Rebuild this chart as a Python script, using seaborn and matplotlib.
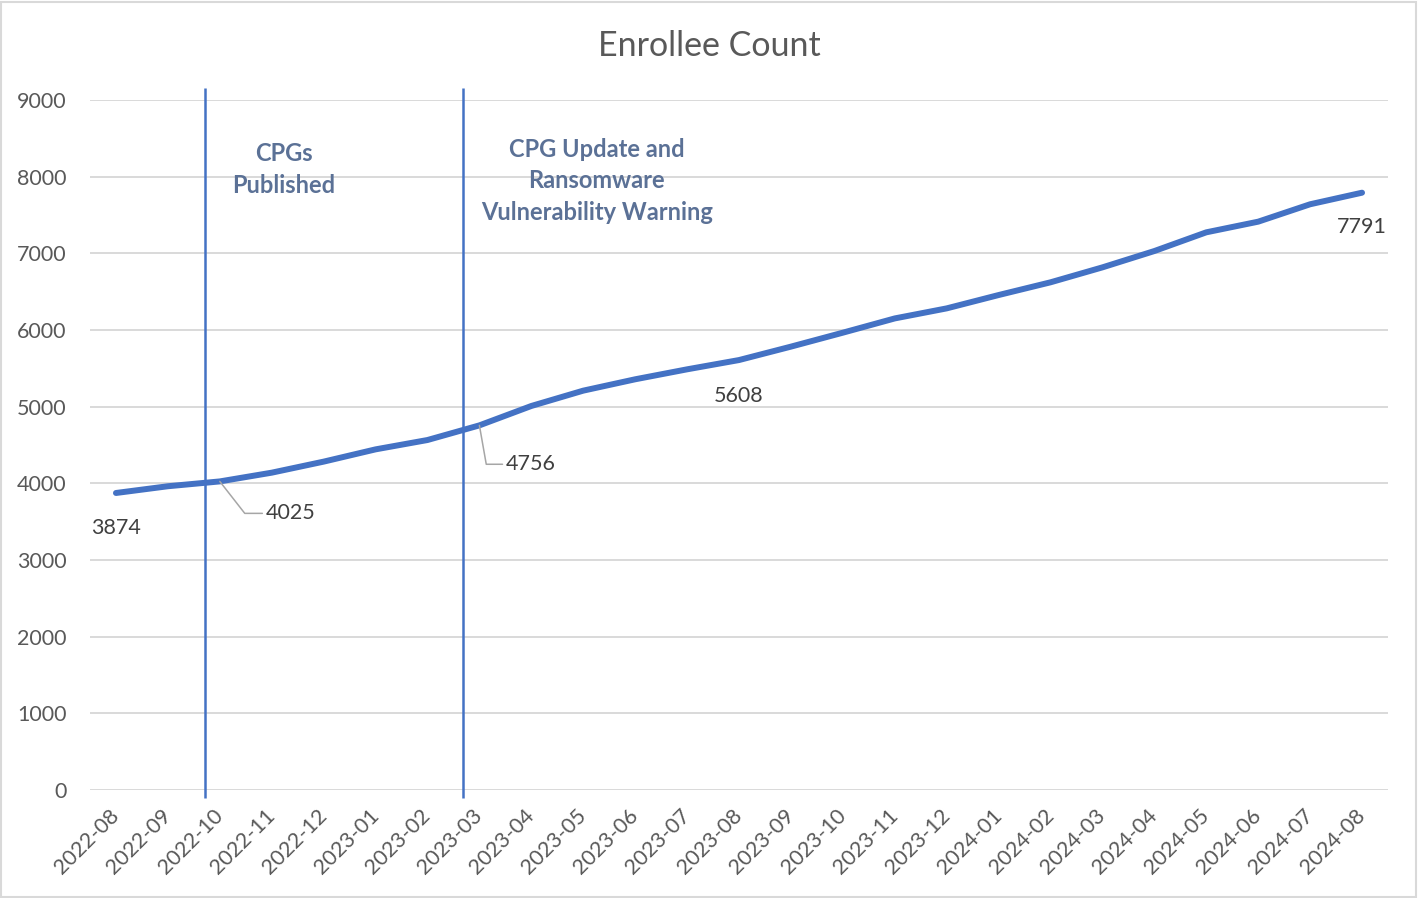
import matplotlib
matplotlib.use("Agg")
import matplotlib.pyplot as plt
import seaborn as sns
import pandas as pd
from matplotlib.patches import Rectangle

months = ["2022-08", "2022-09", "2022-10", "2022-11", "2022-12", "2023-01",
          "2023-02", "2023-03", "2023-04", "2023-05", "2023-06", "2023-07",
          "2023-08", "2023-09", "2023-10", "2023-11", "2023-12", "2024-01",
          "2024-02", "2024-03", "2024-04", "2024-05", "2024-06", "2024-07",
          "2024-08"]
enrollees = [3874, 3962, 4025, 4139, 4283, 4443, 4565, 4756, 5009, 5209,
             5357, 5487, 5608, 5783, 5965, 6151, 6282, 6456, 6622, 6817,
             7030, 7274, 7413, 7640, 7791]

# Event markers (fractional month positions) and their captions
event_positions = [1.715, 6.68]
event_labels = ["CPGs\nPublished", "CPG Update and\nRansomware\nVulnerability Warning"]

sns.set_theme(style="white")
plt.rcParams["font.family"] = ["Lato", "DejaVu Sans"]

LINE_BLUE = "#4472C4"
TEXT_GREY = "#595959"
NOTE_BLUE = "#5B7196"

df = pd.DataFrame({"month": months, "enrollees": enrollees})

fig = plt.figure(figsize=(14.18, 8.98), dpi=100)
ax = fig.add_axes([90 / 1418, 1 - 790 / 898, 1298 / 1418, 690 / 898])

sns.lineplot(data=df, x="month", y="enrollees", sort=False, ax=ax,
             color=LINE_BLUE, linewidth=4.3, solid_capstyle="round", zorder=4)

ax.set_xlim(-0.5, len(months) - 0.5)
ax.set_ylim(0, 9000)
ax.set_yticks(range(0, 9001, 1000))
ax.grid(axis="y", color="#d9d9d9", linewidth=1.4)
ax.grid(axis="x", visible=False)
for s in ax.spines.values():
    s.set_visible(False)
ax.set_xlabel("")
ax.set_ylabel("")
ax.tick_params(axis="both", length=0, labelsize=15.5, labelcolor=TEXT_GREY)
ax.tick_params(axis="y", pad=17)
ax.set_xticks(range(len(months)))
ax.set_xticklabels(months, rotation=45, ha="right", rotation_mode="anchor",
                   va="center")
ax.tick_params(axis="x", pad=16)

fig.text(709 / 1418, 1 - 46 / 898, "Enrollee Count", ha="center", va="center",
         fontsize=24.5, color=TEXT_GREY)

# Event lines and captions
for pos in event_positions:
    ax.vlines(pos, -105, 9150, color=LINE_BLUE, linewidth=1.8, clip_on=False,
              zorder=3)
ax.text(3.24, 8450, event_labels[0], ha="center", va="top", fontsize=17,
        fontweight="bold", color=NOTE_BLUE, linespacing=1.45)
ax.text(9.26, 8510, event_labels[1], ha="center", va="top", fontsize=17,
        fontweight="bold", color=NOTE_BLUE, linespacing=1.45)

# Value labels
val = dict(zip(months, enrollees))
idx = {m: i for i, m in enumerate(months)}
lab_kw = dict(fontsize=15.5, color="#404040", zorder=5)

m = "2022-08"
ax.annotate(str(val[m]), (idx[m], val[m]), xytext=(0, -25),
            textcoords="offset points", ha="center", va="center", **lab_kw)
m = "2022-10"
ax.annotate(str(val[m]), (idx[m], val[m]), xytext=(33, -23),
            textcoords="offset points", ha="left", va="center",
            arrowprops=dict(arrowstyle="-", color="#a6a6a6", lw=1.1,
                            shrinkA=0, shrinkB=0,
                            connectionstyle="angle,angleA=0,angleB=-52,rad=0"),
            **lab_kw)
m = "2023-03"
ax.annotate(str(val[m]), (idx[m], val[m]), xytext=(19, -28),
            textcoords="offset points", ha="left", va="center",
            arrowprops=dict(arrowstyle="-", color="#a6a6a6", lw=1.1,
                            shrinkA=0, shrinkB=0,
                            connectionstyle="angle,angleA=0,angleB=-80,rad=0"),
            **lab_kw)
m = "2023-08"
ax.annotate(str(val[m]), (idx[m], val[m]), xytext=(0, -26),
            textcoords="offset points", ha="center", va="center", **lab_kw)
m = "2024-08"
ax.annotate(str(val[m]), (idx[m], val[m]), xytext=(0, -25),
            textcoords="offset points", ha="center", va="center", **lab_kw)

# Chart-area border
fig.patches.append(Rectangle((0.0005, 0.0008), 0.998, 0.997,
                             transform=fig.transFigure, fill=False,
                             edgecolor="#d9d9d9", linewidth=1.5))

fig.savefig("out.png", dpi=100)
